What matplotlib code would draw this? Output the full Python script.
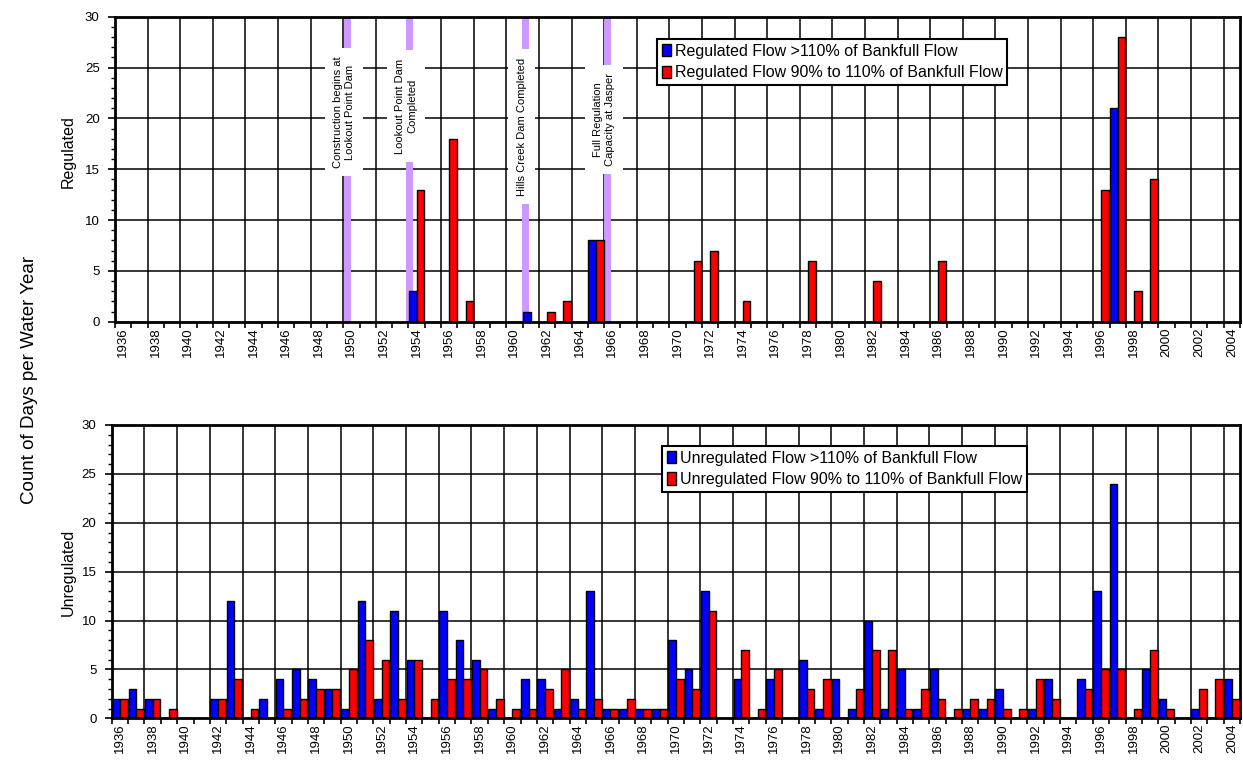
import numpy as np
import matplotlib
matplotlib.use("Agg")
import matplotlib.pyplot as plt
from matplotlib.patches import Patch

plt.rcParams['font.family'] = ['Liberation Sans', 'DejaVu Sans']

# ---- data -------------------------------------------------------------
years = list(range(1936, 2005))

# Regulated flow, days per water year (1936 ... 2004)
reg_over = [0, 0, 0, 0, 0, 0, 0, 0, 0, 0,      # 1936-1945
            0, 0, 0, 0, 0, 0, 0, 0, 3, 0,      # 1946-1955
            0, 0, 0, 0, 0, 1, 0, 0, 0, 8,      # 1956-1965
            0, 0, 0, 0, 0, 0, 0, 0, 0, 0,      # 1966-1975
            0, 0, 0, 0, 0, 0, 0, 0, 0, 0,      # 1976-1985
            0, 0, 0, 0, 0, 0, 0, 0, 0, 0,      # 1986-1995
            0, 21, 0, 0, 0, 0, 0, 0, 0]        # 1996-2004
reg_band = [0, 0, 0, 0, 0, 0, 0, 0, 0, 0,
            0, 0, 0, 0, 0, 0, 0, 0, 13, 0,
            18, 2, 0, 0, 0, 0, 1, 2, 0, 8,
            0, 0, 0, 0, 0, 6, 7, 0, 2, 0,
            0, 0, 6, 0, 0, 0, 4, 0, 0, 0,
            6, 0, 0, 0, 0, 0, 0, 0, 0, 0,
            13, 28, 3, 14, 0, 0, 0, 0, 0]

# Unregulated flow, days per water year
unreg_over = [2, 3, 2, 0, 0, 0, 2, 12, 0, 2,
              4, 5, 4, 3, 1, 12, 2, 11, 6, 0,
              11, 8, 6, 1, 0, 4, 4, 1, 2, 13,
              1, 1, 1, 1, 8, 5, 13, 0, 4, 0,
              4, 0, 6, 1, 4, 1, 10, 1, 5, 1,
              5, 0, 1, 1, 3, 0, 1, 4, 0, 4,
              13, 24, 0, 5, 2, 0, 1, 0, 4]
unreg_band = [2, 1, 2, 1, 0, 0, 2, 4, 1, 0,
              1, 2, 3, 3, 5, 8, 6, 2, 6, 2,
              4, 4, 5, 2, 1, 1, 3, 5, 1, 2,
              1, 2, 1, 1, 4, 3, 11, 0, 7, 1,
              5, 0, 3, 4, 0, 3, 7, 7, 1, 3,
              2, 1, 2, 2, 1, 1, 4, 2, 0, 3,
              5, 5, 1, 7, 1, 0, 3, 4, 2]

# dam history markers (year, label)
event_years = [1949.75, 1953.55, 1960.65, 1965.7]
event_labels = ['Construction begins at\nLookout Point Dam',
                'Lookout Point Dam\nCompleted',
                'Hills Creek Dam Completed',
                'Full Regulation\nCapacity at Jasper']
event_text_y = [20.6, 21.2, 19.2, 19.9]

BLUE = '#0000FF'
RED = '#FF0000'
PURPLE = '#CC99FF'

idx = np.arange(len(years))
w = 0.47

fig = plt.figure(figsize=(12.43, 7.63), dpi=100)
ax_top = fig.add_axes([0.0925, 0.5784, 0.9051, 0.3997])
ax_bot = fig.add_axes([0.0899, 0.0586, 0.9077, 0.3844])


def style_axis(ax):
    ax.set_xlim(-0.5, len(years) - 0.5)
    ax.set_ylim(0, 30)
    # year labels centred on categories, every second year
    ax.set_xticks(idx[::2])
    ax.set_xticklabels([str(y) for y in years[::2]], rotation=90, fontsize=9.5)
    ax.set_xticks(np.arange(len(years) + 1) - 0.5, minor=True)
    ax.tick_params(axis='x', which='major', length=0, pad=4)
    ax.tick_params(axis='x', which='minor', length=4, width=1.2, direction='out')
    ax.set_yticks(np.arange(0, 31, 5))
    ax.set_yticks(np.arange(0, 31, 1), minor=True)
    ax.tick_params(axis='y', which='major', length=5, width=1.2, labelsize=9.5, pad=6)
    ax.tick_params(axis='y', which='minor', length=3, width=1.0)
    # grid: every 5 days, every second year boundary
    for yv in range(5, 30, 5):
        ax.axhline(yv, color='black', linewidth=1.1, zorder=0.5)
    for xv in idx[2::2] - 0.5:
        ax.axvline(xv, color='black', linewidth=1.1, zorder=0.5)
    for s in ax.spines.values():
        s.set_linewidth(2.0)
        s.set_zorder(5)


# ---- top: regulated ---------------------------------------------------
style_axis(ax_top)
ax_top.bar(idx - w / 2, reg_over, w, color=BLUE, edgecolor='black', linewidth=1.0, zorder=3)
ax_top.bar(idx + w / 2, reg_band, w, color=RED, edgecolor='black', linewidth=1.0, zorder=3)

for ey, lab, ty in zip(event_years, event_labels, event_text_y):
    xpos = ey - years[0]
    ax_top.axvline(xpos, color=PURPLE, linewidth=5, zorder=2)
    ax_top.text(xpos - 0.2, ty, lab, rotation=90, ha='center', va='center',
                fontsize=8, linespacing=1.25, zorder=2.5,
                bbox=dict(facecolor='white', edgecolor='none', pad=6))

leg1 = ax_top.legend(handles=[Patch(facecolor=BLUE, edgecolor='black', label='Regulated Flow >110% of Bankfull Flow'),
                              Patch(facecolor=RED, edgecolor='black', label='Regulated Flow 90% to 110% of Bankfull Flow')],
                     loc='upper left', bbox_to_anchor=(0.5286, 0.9489), bbox_transform=fig.transFigure,
                     fontsize=11.5, fancybox=False, framealpha=1, edgecolor='black',
                     handlelength=0.6, handleheight=0.8, handletextpad=0.2,
                     labelspacing=0.4, borderpad=0.3, borderaxespad=0)
leg1.get_frame().set_linewidth(1.5)
leg1.set_zorder(6)

# ---- bottom: unregulated ----------------------------------------------
style_axis(ax_bot)
ax_bot.bar(idx - w / 2, unreg_over, w, color=BLUE, edgecolor='black', linewidth=1.0, zorder=3)
ax_bot.bar(idx + w / 2, unreg_band, w, color=RED, edgecolor='black', linewidth=1.0, zorder=3)

leg2 = ax_bot.legend(handles=[Patch(facecolor=BLUE, edgecolor='black', label='Unregulated Flow >110% of Bankfull Flow'),
                              Patch(facecolor=RED, edgecolor='black', label='Unregulated Flow 90% to 110% of Bankfull Flow')],
                     loc='upper left', bbox_to_anchor=(0.5326, 0.4155), bbox_transform=fig.transFigure,
                     fontsize=11.5, fancybox=False, framealpha=1, edgecolor='black',
                     handlelength=0.6, handleheight=0.8, handletextpad=0.2,
                     labelspacing=0.4, borderpad=0.3, borderaxespad=0)
leg2.get_frame().set_linewidth(1.5)
leg2.set_zorder(6)

# ---- axis titles --------------------------------------------------------
fig.text(30 / 1243, 1 - 380 / 763, 'Count of Days per Water Year', rotation=90,
         ha='center', va='center', fontsize=13.5)
fig.text(68 / 1243, 1 - 152 / 763, 'Regulated', rotation=90,
         ha='center', va='center', fontsize=11.5)
fig.text(68 / 1243, 1 - 572 / 763, 'Unregulated', rotation=90,
         ha='center', va='center', fontsize=11.5)

fig.savefig('out.png', dpi=100)
